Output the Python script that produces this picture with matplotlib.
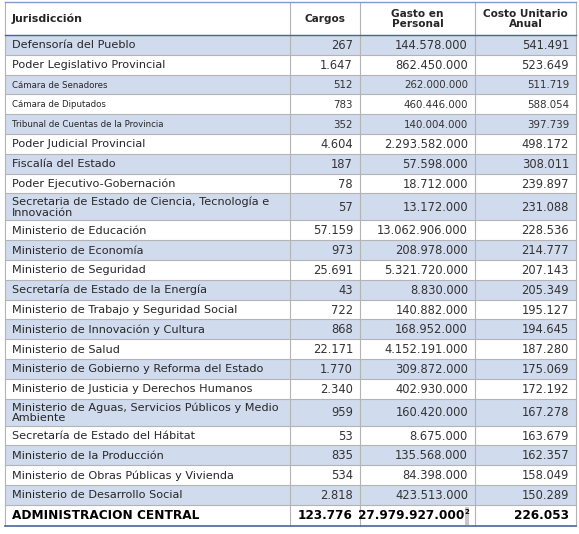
import matplotlib.pyplot as plt
from matplotlib.patches import Rectangle

jurisdicciones = [
    "Defensoría del Pueblo",
    "Poder Legislativo Provincial",
    "Cámara de Senadores",
    "Cámara de Diputados",
    "Tribunal de Cuentas de la Provincia",
    "Poder Judicial Provincial",
    "Fiscalía del Estado",
    "Poder Ejecutivo-Gobernación",
    "Secretaria de Estado de Ciencia, Tecnología e\nInnovación",
    "Ministerio de Educación",
    "Ministerio de Economía",
    "Ministerio de Seguridad",
    "Secretaría de Estado de la Energía",
    "Ministerio de Trabajo y Seguridad Social",
    "Ministerio de Innovación y Cultura",
    "Ministerio de Salud",
    "Ministerio de Gobierno y Reforma del Estado",
    "Ministerio de Justicia y Derechos Humanos",
    "Ministerio de Aguas, Servicios Públicos y Medio\nAmbiente",
    "Secretaría de Estado del Hábitat",
    "Ministerio de la Producción",
    "Ministerio de Obras Públicas y Vivienda",
    "Ministerio de Desarrollo Social",
]
cargos = [267, 1647, 512, 783, 352, 4604, 187, 78, 57, 57159, 973, 25691, 43,
          722, 868, 22171, 1770, 2340, 959, 53, 835, 534, 2818]
gasto = [144578000, 862450000, 262000000, 460446000, 140004000, 2293582000,
         57598000, 18712000, 13172000, 13062906000, 208978000, 5321720000,
         8830000, 140882000, 168952000, 4152191000, 309872000, 402930000,
         160420000, 8675000, 135568000, 84398000, 423513000]
costo = [541491, 523649, 511719, 588054, 397739, 498172, 308011, 239897,
         231088, 228536, 214777, 207143, 205349, 195127, 194645, 187280,
         175069, 172192, 167278, 163679, 162357, 158049, 150289]
total_label = "ADMINISTRACION CENTRAL"
total_cargos = 123776
total_gasto = 27979927000
total_costo = 226053
headers = ["Jurisdicción", "Cargos", "Gasto en\nPersonal", "Costo Unitario\nAnual"]
filas_chicas = [2, 3, 4]  # Cámaras y Tribunal en letra menor


def fmt(v):
    return f"{v:,}".replace(",", ".")


plt.rcParams['font.family'] = ['DejaVu Sans']
fig = plt.figure(figsize=(5.79, 5.34), dpi=100)
ax = fig.add_axes([0, 0, 1, 1])
ax.set_xlim(0, 579)
ax.set_ylim(534, 0)
ax.axis('off')

col_x = [5, 290, 360, 475, 576]
azul = "#d1dbee"
linea = "#b4b4b4"
texto = "#262626"
numeros = "#333333"

# encabezado
y0, h_head = 2, 33
ax.text(12, y0 + h_head / 2, headers[0], ha="left", va="center", fontsize=7.9, fontweight="bold", color=texto)
for i in range(1, 4):
    ax.text((col_x[i] + col_x[i + 1]) / 2, y0 + h_head / 2 + 0.5, headers[i], ha="center", va="center",
            fontsize=7.6, fontweight="bold", color=texto, linespacing=1.1)

y = y0 + h_head
for i, nombre in enumerate(jurisdicciones):
    h = 27 if "\n" in nombre else 19.8
    fc = azul if i % 2 == 0 else "white"
    ax.add_patch(Rectangle((col_x[0], y), col_x[-1] - col_x[0], h, facecolor=fc, edgecolor="none"))
    ax.plot([col_x[0], col_x[-1]], [y, y], color=linea, lw=0.8)
    chica = i in filas_chicas
    fs = 6.2 if chica else 8.1
    ax.text(12, y + h / 2 + 0.5, nombre, ha="left", va="center", fontsize=fs, color=texto, linespacing=1.05)
    for j, v in enumerate([cargos[i], gasto[i], costo[i]]):
        ax.text(col_x[j + 2] - 7, y + h / 2 + 0.5, fmt(v), ha="right", va="center",
                fontsize=7.4 if chica else 8.3, color=numeros)
    y += h

# fila total
h = 21
ax.plot([col_x[0], col_x[-1]], [y, y], color=linea, lw=0.8)
ax.text(12, y + h / 2, total_label, ha="left", va="center", fontsize=8.7, fontweight="bold", color="black")
ax.text(col_x[2] - 7, y + h / 2, fmt(total_cargos), ha="right", va="center", fontsize=8.7, fontweight="bold", color="black")
ax.text(col_x[3] - 11, y + h / 2, fmt(total_gasto), ha="right", va="center", fontsize=8.7, fontweight="bold", color="black")
ax.add_patch(Rectangle((col_x[3] - 10, y + 2), 4, h - 3, facecolor="#c8c8c8", edgecolor="none"))
ax.text(col_x[3] - 8, y + h / 2 - 3, "2", ha="center", va="center", fontsize=5, fontweight="bold", color="black")
ax.text(col_x[4] - 7, y + h / 2, fmt(total_costo), ha="right", va="center", fontsize=8.7, fontweight="bold", color="black")
y_fin = y + h

# verticales y bordes
for x in col_x:
    ax.plot([x, x], [y0, y_fin], color=linea, lw=0.8)
ax.plot([col_x[0], col_x[-1]], [y0, y0], color="#7f9bc8", lw=1.0)
ax.plot([col_x[0], col_x[-1]], [y0 + h_head, y0 + h_head], color="#4a6596", lw=1.0)
ax.plot([col_x[0], col_x[-1]], [y_fin, y_fin], color="#4a6596", lw=1.2)

fig.savefig("out.png", dpi=100)
